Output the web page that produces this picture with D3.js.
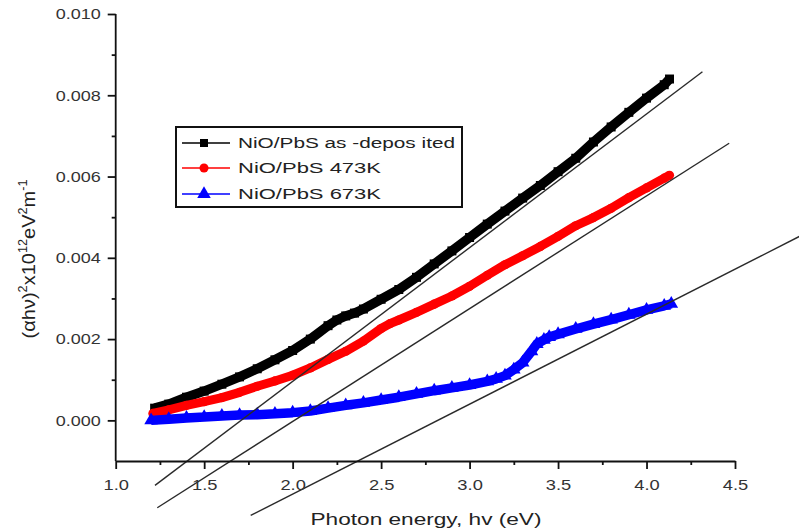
<!DOCTYPE html>
<html><head><meta charset="utf-8">
<script src="https://cdn.jsdelivr.net/npm/d3@7"></script>
<style>html,body{margin:0;padding:0;background:#fff;} svg{display:block;}</style>
</head><body>
<svg id="chart" width="799" height="531"></svg>
<script>
// ---------- data ----------
const xTicks = [1.0, 1.5, 2.0, 2.5, 3.0, 3.5, 4.0, 4.5];
const xMinorTicks = [1.25, 1.75, 2.25, 2.75, 3.25, 3.75, 4.25];
const yTicks = [0.000, 0.002, 0.004, 0.006, 0.008, 0.010];
const yMinorTicks = [0.001, 0.003, 0.005, 0.007, 0.009];

const seriesNames = ["NiO/PbS as -depos ited", "NiO/PbS 473K", "NiO/PbS 673K"];
const seriesColors = ["#000000", "#ff0000", "#0000ff"];

const blackE = [1.22,1.30,1.40,1.50,1.60,1.70,1.80,1.90,2.00,2.10,2.20,2.25,2.30,2.35,2.40,2.50,2.60,2.70,2.80,2.90,3.00,3.10,3.20,3.30,3.40,3.50,3.60,3.70,3.80,3.90,4.00,4.10,4.13];
const blackV = [0.00030,0.00040,0.00057,0.00072,0.00089,0.00107,0.00127,0.00149,0.00172,0.00200,0.00233,0.00247,0.00257,0.00264,0.00274,0.00298,0.00322,0.00352,0.00385,0.00417,0.00450,0.00483,0.00515,0.00547,0.00578,0.00612,0.00645,0.00685,0.00722,0.00758,0.00793,0.00826,0.00840];

const redE = [1.21,1.30,1.40,1.50,1.60,1.70,1.80,1.90,2.00,2.10,2.20,2.30,2.40,2.50,2.55,2.60,2.70,2.80,2.90,3.00,3.10,3.20,3.30,3.40,3.50,3.60,3.70,3.80,3.90,4.00,4.10,4.13];
const redV = [0.00017,0.00026,0.00037,0.00046,0.00056,0.00069,0.00084,0.00097,0.00111,0.00129,0.00150,0.00170,0.00195,0.00226,0.00238,0.00247,0.00266,0.00286,0.00306,0.00330,0.00357,0.00383,0.00405,0.00428,0.00453,0.00479,0.00499,0.00522,0.00548,0.00572,0.00596,0.00603];

const blueE = [1.20,1.30,1.40,1.50,1.60,1.70,1.80,1.90,2.00,2.10,2.20,2.30,2.40,2.50,2.60,2.70,2.80,2.90,3.00,3.10,3.15,3.20,3.25,3.30,3.35,3.38,3.42,3.45,3.50,3.60,3.70,3.80,3.90,4.00,4.10,4.14];
const blueV = [0.00000,0.00003,0.00006,0.00008,0.00011,0.00013,0.00014,0.00016,0.00019,0.00023,0.00030,0.00037,0.00043,0.00050,0.00057,0.00065,0.00073,0.00080,0.00087,0.00096,0.00102,0.00110,0.00125,0.00142,0.00170,0.00188,0.00198,0.00205,0.00212,0.00225,0.00237,0.00248,0.00260,0.00272,0.00282,0.00287];

// straight tangent (fit) lines: [start, end]
const fit1E = [1.222, 4.316], fit1V = [-0.00160, 0.00858];
const fit2E = [1.235, 4.467], fit2V = [-0.00215, 0.00682];
const fit3E = [1.763, 4.870], fit3V = [-0.00234, 0.00454];

// ---------- chart ----------
const svg = d3.select("#chart");
const x = d3.scaleLinear().domain([1.0, 4.5]).range([115.7, 735]);
const y = d3.scaleLinear().domain([-0.001, 0.010]).range([461, 14]);
const FONT = "'Liberation Sans', Arial, Helvetica, sans-serif";

function stretch(sel, factor) {
  sel.each(function () {
    const w = this.getComputedTextLength();
    d3.select(this).attr("textLength", w * factor).attr("lengthAdjust", "spacingAndGlyphs");
  });
}

// data series
const series = [
  {e: blackE, v: blackV, color: seriesColors[0], sym: d3.symbolSquare, size: 81, lw: 9.5},
  {e: redE, v: redV, color: seriesColors[1], sym: d3.symbolCircle, size: 66, lw: 9},
  {e: blueE, v: blueV, color: seriesColors[2], sym: d3.symbolTriangle, size: 80, lw: 9.5}
];
const line = d3.line().x(d => x(d[0])).y(d => y(d[1]));
series.forEach(s => {
  const pts = s.e.map((e, i) => [e, s.v[i]]);
  svg.append("path").attr("d", line(pts)).attr("fill", "none")
    .attr("stroke", s.color).attr("stroke-width", s.lw)
    .attr("stroke-linejoin", "round");
  svg.append("g").selectAll("path").data(pts).join("path")
    .attr("transform", d => `translate(${x(d[0])},${y(d[1])})`)
    .attr("d", d3.symbol().type(s.sym).size(s.size))
    .attr("fill", s.color);
});

// fit lines
[[fit1E, fit1V], [fit2E, fit2V], [fit3E, fit3V]].forEach(([E, V]) => {
  const pts = E.map((e, i) => [e, V[i]]);
  svg.append("path").attr("d", line(pts)).attr("fill", "none")
    .attr("stroke", "#2a2a2a").attr("stroke-width", 1.4);
});

// axes
const xAxis = svg.append("g").attr("transform", "translate(0,461)")
  .call(d3.axisBottom(x).tickValues(xTicks).tickSize(8).tickSizeOuter(0)
    .tickPadding(10).tickFormat(d3.format(".1f")));
const xMinor = svg.append("g").attr("transform", "translate(0,461)")
  .call(d3.axisBottom(x).tickValues(xMinorTicks).tickSize(4).tickSizeOuter(0).tickFormat(""));
xMinor.select(".domain").remove();
const yAxis = svg.append("g").attr("transform", "translate(115.7,0)")
  .call(d3.axisLeft(y).tickValues(yTicks).tickSize(8).tickSizeOuter(0)
    .tickPadding(7).tickFormat(d3.format(".3f")));
const yMinor = svg.append("g").attr("transform", "translate(115.7,0)")
  .call(d3.axisLeft(y).tickValues(yMinorTicks).tickSize(4).tickSizeOuter(0).tickFormat(""));
yMinor.select(".domain").remove();

[xAxis, xMinor, yAxis, yMinor].forEach(g => {
  g.selectAll(".domain, line").attr("stroke", "#111").attr("stroke-width", 1.8);
  g.selectAll("text").attr("font-family", FONT).attr("font-size", 15).attr("fill", "#333");
});
yAxis.select(".domain").attr("d", `M0,${y(0.010)}V${y(-0.001)}`);
stretch(xAxis.selectAll("text"), 1.22);
stretch(yAxis.selectAll("text"), 1.2);

// x axis title
const xt = svg.append("text").attr("x", 426).attr("y", 525)
  .attr("text-anchor", "middle").attr("font-family", FONT).attr("font-size", 17)
  .attr("fill", "#222").text("Photon energy, hv (eV)");
xt.attr("textLength", 231).attr("lengthAdjust", "spacingAndGlyphs");

// y axis title
const yt = svg.append("text").attr("font-family", FONT).attr("font-size", 19)
  .attr("fill", "#222").attr("text-anchor", "middle");
const parts = [["(αhν)", 0], ["2", 1], ["x10", 0], ["12", 1], ["eV", 0], ["2", 1], ["m", 0], ["-1", 1]];
let prevSup = 0;
parts.forEach(([t, sup]) => {
  const dy = sup && !prevSup ? -8 : (!sup && prevSup ? 8 : 0);
  yt.append("tspan").attr("dy", dy).attr("font-size", sup ? 12 : 19).text(t);
  prevSup = sup;
});
const natural = yt.node().getComputedTextLength();
yt.attr("transform", `translate(35,259) rotate(-90) scale(${159 / natural},1)`);

// legend
const lg = svg.append("g");
lg.append("rect").attr("x", 176).attr("y", 127).attr("width", 286).attr("height", 80)
  .attr("fill", "#fff").attr("stroke", "#111").attr("stroke-width", 2);
const rowY = [143, 168, 194];
const legSyms = [[d3.symbolSquare, 64], [d3.symbolCircle, 64], [d3.symbolTriangle, 80]];
const legW = [217, 143, 143];
seriesNames.forEach((name, i) => {
  lg.append("line").attr("x1", 182).attr("x2", 230).attr("y1", rowY[i]).attr("y2", rowY[i])
    .attr("stroke", seriesColors[i]).attr("stroke-width", 1.6);
  lg.append("path").attr("transform", `translate(204,${rowY[i]})`)
    .attr("d", d3.symbol().type(legSyms[i][0]).size(legSyms[i][1])).attr("fill", seriesColors[i]);
  lg.append("text").attr("x", 238).attr("y", rowY[i] + 5)
    .attr("font-family", FONT).attr("font-size", 14).attr("fill", "#222")
    .attr("textLength", legW[i]).attr("lengthAdjust", "spacingAndGlyphs").text(name);
});
</script>
</body></html>
